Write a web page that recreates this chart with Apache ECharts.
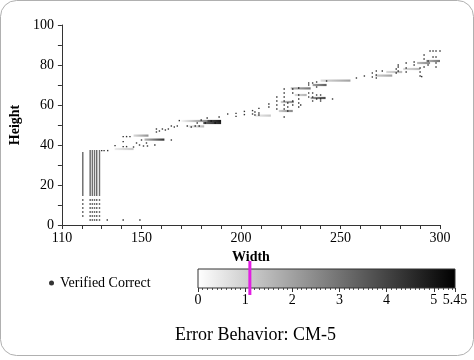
<!DOCTYPE html>
<html><head><meta charset="utf-8">
<script src="https://cdn.jsdelivr.net/npm/echarts@6/dist/echarts.min.js"></script>
<style>html,body{margin:0;padding:0;background:#fff}#c{width:474px;height:360px}</style>
</head><body><div id="c"></div>
<script>
// ---- tick labels ----
const xTickLabels = [110, 150, 200, 250, 300];
const yTickLabels = [0, 20, 40, 60, 80, 100];
const cbTickLabels = [0, 1, 2, 3, 4, 5, 5.45];
const errorMax = 5.45;
const thresholdError = 1.1;

// ---- verified correct: dense columns at left ----
const singleColX = [120.5];
const singleColY = [15,16,17,18,19,20,21,22,23,24,25,26,27,28,29,30,31,32,33,34,35,36,12.5,10.5,8.5,6.5,4.5];
const blockColX = [124.2, 125.3, 126.4, 127.5, 128.9];
const blockColY = [15,16,17,18,19,20,21,22,23,24,25,26,27,28,29,30,31,32,33,34,35,36,37,12.5,10.5,8.5,6.5,4.5,2.5];

// ---- verified correct: other points [width, height] ----
const verifiedPoints = [
  [130,37.2],[131.2,37.2],[133,37.2],[132.8,2.5],[140.8,2.5],[149.2,2.5],
  [136.7,39.7],[140.8,44.2],[142.5,44.2],[144.2,44.2],[140.8,41.7],[140.8,39.2],[142.5,39.2],
  [146,39],[147.5,41],[149,40],[150,42.5],[151,39.5],[152.5,41],[153,39.5],[156.7,40],
  [157.5,46.5],[157.5,48],[159,47],[160.5,48],[162,47.5],[163.5,48],[165,49.5],[166.5,49],[168,49.5],[165,42.5],
  [169,52.2],[173,49.5],[175,49],[177,49.5],[179,49.5],[178,51],[180,52.5],[182,51],[183,53.5],[185,52],[187,51],[189,54],
  [193.3,55.5],[197.5,55.8],[197.5,54.3],[201.7,56.8],[201.7,55.2],[205.8,57.2],[205.8,55.5],[207,56.5],[207,55],[209,58.3],[209,56],[209,55],
  [214,59],[214,60.5],[218,58],[218,60],[218,62],[218,64],
  [221.7,54],[221.7,58],[221.7,60],[221.7,62],[221.7,64],[221.7,66],[221.7,68],
  [223.5,57],[223.5,59],[223.5,61],[226,60],[226,62],[226,66],[226,68],
  [229,59],[229,61],[229,63],[229,65],[229,68.5],[230,60],
  [234,64],[234,66],[234,70],[234,71],[236,62],[236,64],[236,66],[236,71],
  [238,63],[238,65],[238,69],[238,71.5],[240,62],[240,63],[240,65],[243,72],[246,63],
  [258,73.5],[262,74.5],[266,74],[266,76],[268,73.5],[268,75],[268,77],[271,77],
  [278,76],[278,78],[279,77],[279,79],[279,80],[283,76.5],[283,78.5],[283,81],
  [287,80],[287,81.5],[290,74.5],[290,76.5],[290,78.5],[290.8,74.2],
  [292,79],[292,83],[292,85],[294,80],[294,82],[295,87],[296.5,84],[296.5,87],
  [298,79],[298,81],[298,84],[298,87],[300,87]
];

// ---- error segments: [widthStart, widthEnd, height, errorStart, errorEnd] ----
const errorSegments = [
  [136.5,146,38,0.4,1.2],
  [146,153.5,44.7,0.8,2.4],
  [151.5,161.5,42.7,1.5,4.4],
  [170,183,52,0.2,2.6],
  [183,190,52,3.8,5.0],
  [181,190,51,3.2,4.8],
  [173.5,181.5,49.3,0.4,1.5],
  [207,215,54.7,0.4,1.2],
  [219,226,57,1,2.6],
  [220,226.5,61.5,1,2.5],
  [225,235,68.3,1.5,3],
  [227,233,65,0.8,1.6],
  [235,242.5,63.5,2,4],
  [236,243,70,2,3.5],
  [240,255,72.2,0.8,2],
  [267.5,276,74.7,1,2],
  [273,281,76.5,0.8,1.5],
  [281.5,290,78,0.8,1.5],
  [288.5,295,81,1.5,2.5],
  [293,300,82,1.5,3]
];

const verifiedData = [];
singleColX.forEach(x => singleColY.forEach(y => verifiedData.push([x, y])));
blockColX.forEach(x => blockColY.forEach(y => verifiedData.push([x, y])));
verifiedPoints.forEach(p => verifiedData.push(p));

function gray(e) {
  const v = Math.round(255 * (1 - Math.max(0, Math.min(errorMax, e)) / errorMax));
  return 'rgb(' + v + ',' + v + ',' + v + ')';
}

const FONT = '"Liberation Serif", "Times New Roman", serif';
const chart = echarts.init(document.getElementById('c'), null, {renderer: 'canvas'});
chart.setOption({
  animation: false,
  backgroundColor: '#fff',
  textStyle: {fontFamily: FONT},
  graphic: [{
    type: 'rect', shape: {x: 0.5, y: 0.5, width: 473, height: 355, r: 16},
    style: {fill: 'none', stroke: '#b0b0b0', lineWidth: 1}, z: -1
  }],
  title: {
    text: 'Error Behavior: CM-5', left: 170, top: 321,
    textStyle: {fontFamily: FONT, fontSize: 18, fontWeight: 'normal', color: '#000'}
  },
  legend: {
    data: [{name: 'Verified Correct', icon: 'circle'}],
    left: 44, top: 271, itemWidth: 5, itemHeight: 5, itemGap: 4, selectedMode: false,
    textStyle: {fontFamily: FONT, fontSize: 14, color: '#000', padding: [0,0,0,1]}
  },
  grid: [
    {left: 60, right: 34, top: 25, bottom: 135},
    {left: 198, right: 19, top: 269, height: 19}
  ],
  xAxis: [{
    gridIndex: 0, type: 'value', min: 110, max: 300, interval: 10,
    name: 'Width', nameLocation: 'middle', nameGap: 24,
    nameTextStyle: {fontFamily: FONT, fontSize: 14, fontWeight: 'bold', color: '#000'},
    axisLine: {show: true, lineStyle: {color: '#333', width: 1}},
    axisTick: {show: true, length: 4, lineStyle: {color: '#333'}},
    axisLabel: {customValues: xTickLabels, fontFamily: FONT, fontSize: 14, color: '#000', margin: 6},
    splitLine: {show: false}
  }, {
    gridIndex: 1, type: 'value', min: 0, max: errorMax, interval: 1,
    axisLine: {show: false},
    axisTick: {show: true, length: 4, customValues: cbTickLabels, lineStyle: {color: '#333'}},
    minorTick: {show: true, splitNumber: 10, length: 2, lineStyle: {color: '#555'}},
    axisLabel: {customValues: cbTickLabels, fontFamily: FONT, fontSize: 14, color: '#000', margin: 5},
    splitLine: {show: false}
  }],
  yAxis: [{
    gridIndex: 0, type: 'value', min: 0, max: 100, interval: 10,
    name: 'Height', nameLocation: 'middle', nameGap: 37, nameRotate: 90,
    nameTextStyle: {fontFamily: FONT, fontSize: 14, fontWeight: 'bold', color: '#000'},
    axisLine: {show: true, lineStyle: {color: '#333', width: 1}},
    axisTick: {show: true, length: 4, lineStyle: {color: '#333'}},
    axisLabel: {customValues: yTickLabels, fontFamily: FONT, fontSize: 14, color: '#000', margin: 8},
    splitLine: {show: false}
  }, {
    gridIndex: 1, type: 'value', min: 0, max: 1, show: false
  }],
  series: [{
    type: 'custom', name: 'errors', xAxisIndex: 0, yAxisIndex: 0,
    data: errorSegments, clip: true, z: 1,
    renderItem: function (params, api) {
      const p1 = api.coord([api.value(0), api.value(2)]);
      const p2 = api.coord([api.value(1), api.value(2)]);
      return {
        type: 'rect',
        shape: {x: p1[0], y: p1[1] - 1.1, width: p2[0] - p1[0], height: 2.2},
        style: {fill: new echarts.graphic.LinearGradient(0, 0, 1, 0, [
          {offset: 0, color: gray(api.value(3))}, {offset: 1, color: gray(api.value(4))}])}
      };
    }
  }, {
    type: 'scatter', name: 'Verified Correct', xAxisIndex: 0, yAxisIndex: 0,
    data: verifiedData, symbol: 'rect', symbolSize: 1.4,
    itemStyle: {color: '#000'}, z: 2
  }, {
    type: 'custom', name: 'colorbar', xAxisIndex: 1, yAxisIndex: 1,
    data: [[0, errorMax, thresholdError]], clip: false,
    renderItem: function (params, api) {
      const a = api.coord([api.value(0), 1]);
      const b = api.coord([api.value(1), 0]);
      const t1 = api.coord([api.value(2), 1]);
      const t0 = api.coord([api.value(2), 0]);
      return {
        type: 'group', children: [{
          type: 'rect',
          shape: {x: a[0], y: a[1], width: b[0] - a[0], height: b[1] - a[1]},
          style: {fill: new echarts.graphic.LinearGradient(0, 0, 1, 0, [
            {offset: 0, color: '#fff'}, {offset: 1, color: '#000'}]), stroke: '#333', lineWidth: 1}
        }, {
          type: 'line',
          shape: {x1: t1[0], y1: t1[1] - 8, x2: t0[0], y2: t0[1] + 7},
          style: {stroke: '#e21ee2', lineWidth: 3}
        }]
      };
    }
  }]
});
</script>
</body></html>
